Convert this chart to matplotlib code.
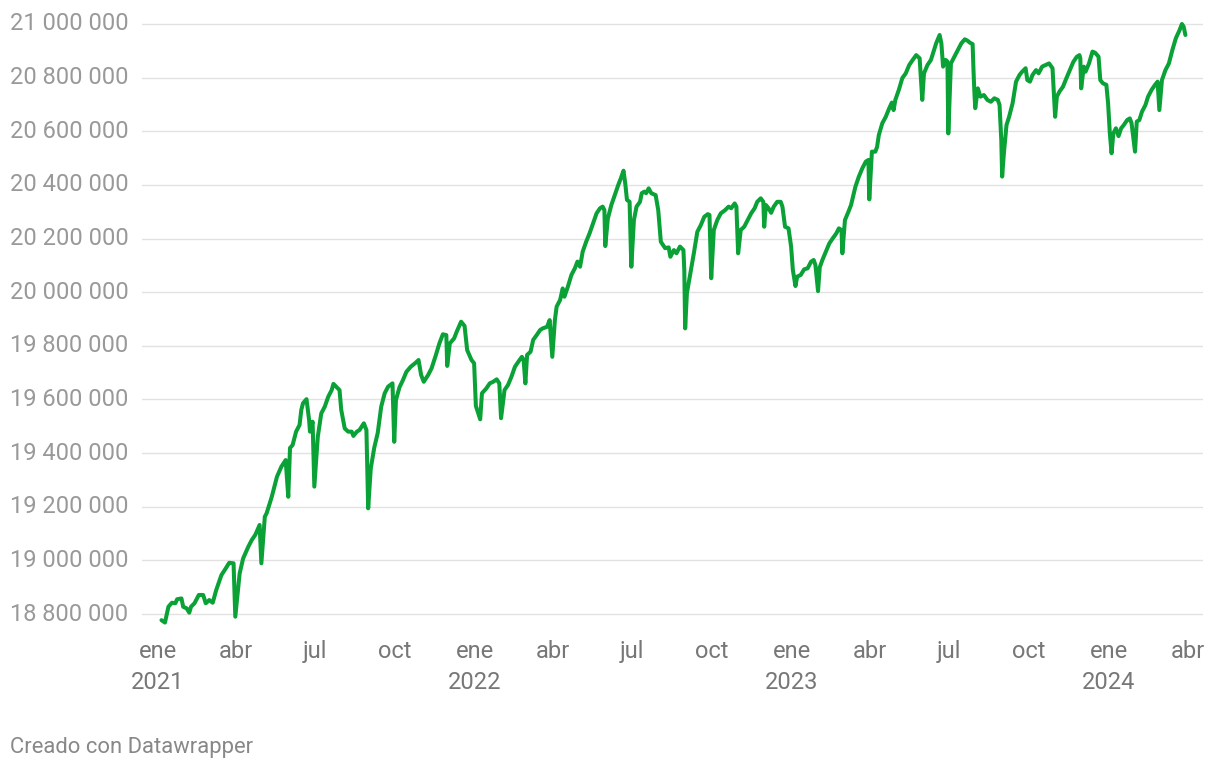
import matplotlib
matplotlib.use("Agg")
import matplotlib.pyplot as plt
import matplotlib.dates as mdates
import matplotlib.transforms as mtransforms
import pandas as pd

plt.rcParams['font.family'] = ['Roboto', 'DejaVu Sans']

# ---- data ----
dates_2021 = ["2021-01-05","2021-01-09","2021-01-13","2021-01-17","2021-01-21","2021-01-23","2021-01-28","2021-01-30",
              "2021-02-03","2021-02-06","2021-02-08","2021-02-12","2021-02-17","2021-02-22","2021-02-25",
              "2021-03-01","2021-03-05","2021-03-09","2021-03-15","2021-03-20","2021-03-24","2021-03-29","2021-03-31",
              "2021-04-05","2021-04-09","2021-04-15","2021-04-19","2021-04-23","2021-04-28","2021-04-30",
              "2021-05-04","2021-05-06","2021-05-12","2021-05-18","2021-05-23","2021-05-28","2021-05-31",
              "2021-06-02","2021-06-05","2021-06-09","2021-06-13","2021-06-15","2021-06-17","2021-06-21","2021-06-24","2021-06-25","2021-06-28","2021-06-30",
              "2021-07-04","2021-07-08","2021-07-12","2021-07-16","2021-07-20","2021-07-22","2021-07-26","2021-07-29","2021-07-31",
              "2021-08-04","2021-08-08","2021-08-12","2021-08-14","2021-08-18","2021-08-21","2021-08-26","2021-08-29","2021-08-31",
              "2021-09-03","2021-09-07","2021-09-11","2021-09-15","2021-09-19","2021-09-23","2021-09-28","2021-09-30",
              "2021-10-02","2021-10-06","2021-10-10","2021-10-14","2021-10-19","2021-10-24","2021-10-28","2021-10-31",
              "2021-11-03","2021-11-08","2021-11-12","2021-11-17","2021-11-21","2021-11-25","2021-11-29","2021-11-30",
              "2021-12-03","2021-12-08","2021-12-11","2021-12-16","2021-12-20","2021-12-23","2021-12-28","2021-12-31"]
values_2021 = [18777,18768,18827,18842,18840,18855,18858,18827,
               18821,18805,18827,18840,18871,18871,18840,
               18852,18842,18889,18945,18970,18991,18989,18790,
               18951,19007,19051,19076,19095,19132,18989,
               19163,19175,19237,19312,19349,19374,19237,
               19419,19430,19480,19505,19561,19586,19601,19523,19480,19517,19275,
               19461,19548,19573,19610,19635,19658,19645,19635,19561,
               19492,19480,19480,19464,19480,19486,19511,19486,19194,
               19343,19420,19475,19573,19623,19648,19660,19442,
               19598,19645,19672,19703,19722,19735,19747,19691,
               19666,19691,19716,19766,19809,19843,19840,19725,
               19809,19828,19853,19890,19874,19784,19747,19735]

dates_2022 = ["2022-01-02","2022-01-07","2022-01-09","2022-01-14","2022-01-18","2022-01-22","2022-01-26","2022-01-29","2022-01-31",
              "2022-02-04","2022-02-08","2022-02-12","2022-02-16","2022-02-20","2022-02-24","2022-02-26","2022-02-28",
              "2022-03-02","2022-03-06","2022-03-09","2022-03-13","2022-03-17","2022-03-20","2022-03-25","2022-03-28","2022-03-31",
              "2022-04-03","2022-04-05","2022-04-09","2022-04-12","2022-04-14","2022-04-18","2022-04-22","2022-04-26","2022-04-29",
              "2022-05-02","2022-05-05","2022-05-09","2022-05-13","2022-05-17","2022-05-21","2022-05-25","2022-05-28","2022-05-30","2022-05-31",
              "2022-06-03","2022-06-07","2022-06-11","2022-06-15","2022-06-18","2022-06-21","2022-06-23","2022-06-25","2022-06-28","2022-06-30",
              "2022-07-03","2022-07-06","2022-07-10","2022-07-12","2022-07-15","2022-07-17","2022-07-20","2022-07-23","2022-07-28","2022-07-31",
              "2022-08-03","2022-08-08","2022-08-12","2022-08-14","2022-08-18","2022-08-21","2022-08-25","2022-08-29","2022-08-30","2022-08-31",
              "2022-09-02","2022-09-06","2022-09-10","2022-09-14","2022-09-18","2022-09-22","2022-09-26","2022-09-28","2022-09-30",
              "2022-10-03","2022-10-07","2022-10-11","2022-10-16","2022-10-20","2022-10-23","2022-10-27","2022-10-29","2022-10-31",
              "2022-11-03","2022-11-07","2022-11-11","2022-11-15","2022-11-19","2022-11-22","2022-11-26","2022-11-29","2022-11-30",
              "2022-12-02","2022-12-05","2022-12-08","2022-12-11","2022-12-15","2022-12-19","2022-12-21","2022-12-24","2022-12-28","2022-12-31"]
values_2022 = [19576,19526,19623,19641,19660,19666,19675,19660,19530,
               19635,19654,19685,19722,19741,19759,19747,19660,
               19766,19778,19822,19840,19859,19865,19871,19896,19759,
               19896,19946,19971,20014,19983,20021,20064,20089,20114,
               20095,20151,20188,20220,20257,20294,20313,20319,20306,20172,
               20275,20325,20362,20400,20425,20453,20406,20344,20337,20095,
               20269,20319,20337,20369,20375,20369,20387,20369,20362,20306,
               20188,20164,20167,20132,20157,20145,20170,20157,20083,19865,
               19996,20070,20145,20225,20250,20281,20291,20288,20052,
               20232,20269,20294,20306,20319,20313,20331,20319,20145,
               20232,20244,20269,20294,20313,20337,20350,20337,20244,
               20325,20313,20296,20319,20337,20337,20319,20244,20238,20170]

dates_2023 = ["2023-01-02","2023-01-05","2023-01-07","2023-01-11","2023-01-15","2023-01-19","2023-01-23","2023-01-26","2023-01-28","2023-01-31",
              "2023-02-02","2023-02-05","2023-02-09","2023-02-13","2023-02-17","2023-02-21","2023-02-24","2023-02-27","2023-02-28",
              "2023-03-03","2023-03-07","2023-03-10","2023-03-15","2023-03-19","2023-03-23","2023-03-27","2023-03-30","2023-03-31",
              "2023-04-03","2023-04-07","2023-04-09","2023-04-11","2023-04-15","2023-04-19","2023-04-23","2023-04-26","2023-04-28","2023-04-30",
              "2023-05-04","2023-05-08","2023-05-12","2023-05-16","2023-05-20","2023-05-24","2023-05-28","2023-05-31",
              "2023-06-02","2023-06-06","2023-06-10","2023-06-13","2023-06-16","2023-06-20","2023-06-22","2023-06-24","2023-06-27","2023-06-29","2023-06-30",
              "2023-07-03","2023-07-07","2023-07-11","2023-07-15","2023-07-19","2023-07-22","2023-07-25","2023-07-28","2023-07-29","2023-07-30","2023-07-31",
              "2023-08-03","2023-08-06","2023-08-10","2023-08-14","2023-08-18","2023-08-22","2023-08-26","2023-08-28","2023-08-30","2023-08-31",
              "2023-09-02","2023-09-05","2023-09-08","2023-09-12","2023-09-16","2023-09-20","2023-09-23","2023-09-27","2023-09-29",
              "2023-10-02","2023-10-05","2023-10-09","2023-10-12","2023-10-16","2023-10-20","2023-10-24","2023-10-28","2023-10-31",
              "2023-11-02","2023-11-05","2023-11-09","2023-11-13","2023-11-17","2023-11-21","2023-11-25","2023-11-28","2023-11-29","2023-11-30",
              "2023-12-03","2023-12-05","2023-12-09","2023-12-13","2023-12-16","2023-12-20","2023-12-22","2023-12-25","2023-12-29","2023-12-31"]
values_2023 = [20083,20023,20058,20064,20085,20089,20114,20120,20101,20004,
               20093,20120,20151,20182,20201,20219,20238,20232,20145,
               20269,20300,20325,20393,20431,20462,20487,20493,20346,
               20524,20524,20542,20586,20630,20654,20686,20707,20679,20717,
               20754,20798,20816,20847,20866,20884,20872,20717,
               20816,20847,20866,20897,20928,20959,20928,20841,20866,20860,20592,
               20853,20878,20903,20928,20943,20938,20930,20925,20828,20748,20686,
               20760,20729,20735,20717,20710,20723,20717,20698,20567,20431,
               20518,20623,20654,20704,20785,20810,20822,20835,20791,
               20785,20810,20828,20816,20841,20847,20853,20835,20654,
               20729,20748,20766,20798,20828,20859,20878,20884,20872,20760,
               20841,20822,20853,20897,20893,20878,20791,20779,20773,20704]

dates_2024 = ["2024-01-02","2024-01-04","2024-01-06","2024-01-09","2024-01-12","2024-01-15","2024-01-18","2024-01-22","2024-01-25","2024-01-27","2024-01-31",
              "2024-02-02","2024-02-05","2024-02-08","2024-02-12","2024-02-15","2024-02-19","2024-02-23","2024-02-26","2024-02-28",
              "2024-03-02","2024-03-06","2024-03-10","2024-03-14","2024-03-18","2024-03-22","2024-03-25","2024-03-27","2024-03-29"]
values_2024 = [20592,20518,20592,20611,20582,20611,20623,20642,20648,20630,20524,
               20636,20642,20673,20698,20729,20754,20773,20785,20679,
               20791,20828,20853,20903,20947,20975,21000,20990,20959]

y_ticks = [18800000, 19000000, 19200000, 19400000, 19600000, 19800000,
           20000000, 20200000, 20400000, 20600000, 20800000, 21000000]
x_tick_dates = ["2021-01-01","2021-04-01","2021-07-01","2021-10-01",
                "2022-01-01","2022-04-01","2022-07-01","2022-10-01",
                "2023-01-01","2023-04-01","2023-07-01","2023-10-01",
                "2024-01-01","2024-04-01"]
x_tick_labels = ["ene\n2021","abr","jul","oct","ene\n2022","abr","jul","oct",
                 "ene\n2023","abr","jul","oct","ene\n2024","abr"]
footer = "Creado con Datawrapper"

# ---- build series ----
dates = pd.to_datetime(dates_2021 + dates_2022 + dates_2023 + dates_2024)
values = [v * 1000 for v in (values_2021 + values_2022 + values_2023 + values_2024)]

W, H = 1220, 770
fig = plt.figure(figsize=(W/100, H/100), dpi=100)
fig.patch.set_facecolor("white")

ax_left_px, ax_right_px = 142, 1203
ax_top_px, ax_bot_px = 14, 630
ax = fig.add_axes([ax_left_px/W, 1-ax_bot_px/H, (ax_right_px-ax_left_px)/W, (ax_bot_px-ax_top_px)/H])

# x limits so that ene 2021 -> x=158 and abr 2024 -> x=1188
d0 = pd.Timestamp("2021-01-01"); d1 = pd.Timestamp("2024-04-01")
ppd = (1188-158) / (d1-d0).days
xmin = d0 - pd.Timedelta(days=(158-ax_left_px)/ppd)
xmax = d1 + pd.Timedelta(days=(ax_right_px-1188)/ppd)
ax.set_xlim(xmin, xmax)

vpp = 2200000 / (614-24)
ax.set_ylim(18800000 - (ax_bot_px-614)*vpp, 21000000 + (24-ax_top_px)*vpp)

for s in ax.spines.values():
    s.set_visible(False)

for yt in y_ticks:
    ax.axhline(yt, color="#e2e2e2", lw=1.0, zorder=1)

ax.plot(dates, values, color="#0aa136", lw=2.9, solid_joinstyle="round",
        solid_capstyle="round", zorder=3)

# y labels, left-aligned at x=10px
trans = mtransforms.blended_transform_factory(fig.transFigure, ax.transData)
for yt in y_ticks:
    lab = f"{yt:,}".replace(",", " ")
    ax.text(10/W, yt, lab, transform=trans, ha="left", va="center",
            fontsize=17, color="#999999")
ax.set_yticks([])

ax.set_xticks(pd.to_datetime(x_tick_dates))
ax.set_xticklabels(x_tick_labels, fontsize=17, color="#777777", linespacing=1.45)
ax.tick_params(axis="x", length=0, pad=7)

fig.text(10/W, 1-748/H, footer, ha="left", va="center", fontsize=15.8, color="#888888")

fig.savefig("out.png", dpi=100, facecolor="white")
